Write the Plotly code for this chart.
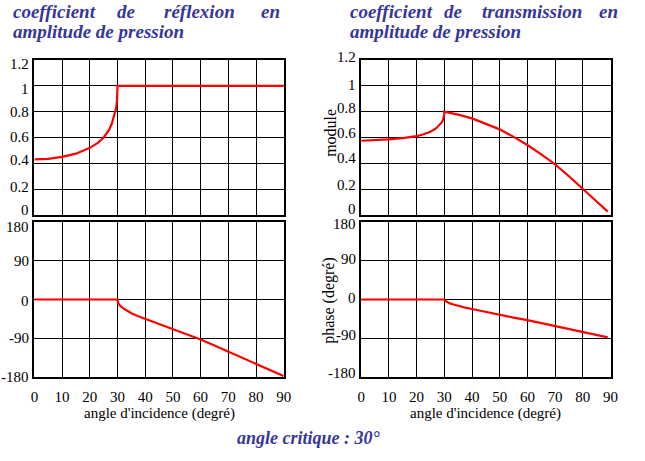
import plotly.graph_objects as go

# ---------------- data ----------------
refl_mod_angle = [0, 5, 10, 15, 20, 23, 25, 27, 28, 29, 29.5, 29.8, 29.95, 30, 40, 50, 60, 70, 80, 90]
refl_mod_value = [0.43, 0.435, 0.45, 0.475, 0.52, 0.56, 0.60, 0.66, 0.71, 0.78, 0.83, 0.88, 0.93, 1.0, 1.0, 1.0, 1.0, 1.0, 1.0, 1.0]

refl_phase_angle = [0, 10, 20, 30, 30.2, 31, 32, 33.5, 35, 37.5, 40, 45, 50, 55, 60, 65, 70, 75, 80, 85, 89, 90]
refl_phase_value = [0, 0, 0, 0, -8, -15, -20, -27, -32, -39, -45, -57, -68, -80, -93, -107, -121, -135, -149, -163, -174, -178]

trans_mod_angle = [0, 5, 10, 15, 20, 22.5, 25, 27, 28, 29, 29.5, 29.8, 29.95, 30, 35, 40, 45, 50, 55, 60, 65, 70, 75, 80, 85, 89]
trans_mod_value = [0.575, 0.578, 0.585, 0.595, 0.61, 0.625, 0.645, 0.67, 0.69, 0.715, 0.735, 0.755, 0.775, 0.80, 0.777, 0.748, 0.708, 0.663, 0.605, 0.542, 0.47, 0.392, 0.30, 0.199, 0.105, 0.026]

trans_phase_angle = [0, 10, 20, 30, 30.3, 31, 32, 33, 35, 37.5, 40, 45, 50, 55, 60, 65, 70, 75, 80, 85, 89]
trans_phase_value = [0, 0, 0, 0, -3, -6, -9, -11, -15, -19, -22, -29, -35, -42, -48, -55, -61, -68, -75, -82, -88]

x_ticks = [0, 10, 20, 30, 40, 50, 60, 70, 80, 90]
mod_ticks = [0, 0.2, 0.4, 0.6, 0.8, 1.0, 1.2]
mod_tick_text = ["0", "0.2", "0.4", "0.6", "0.8", "1", "1.2"]
phase_ticks = [-180, -90, 0, 90, 180]
phase_tick_text = ["-180", "-90", "0", "90", "180"]

W, H = 645, 461
SERIF = "Liberation Serif"
BLUE = "#36369a"
RED = "#ff0000"

fig = go.Figure()

def px(x):
    return x / W

def py(y):
    return 1 - y / H

# tick-label vertical nudges (pixels, + = up), as seen in the reference
left_mod_shift = [5, 2, 3, 1, 0, -3, -4]
left_phase_shift = [0, 0, -1, 0, -5]
right_mod_shift = [6, 4, 5, 5, 4, 1, 3]
right_phase_shift = [4, 3, 2, 2, -2]

panels = [
    ("x", "y", (31, 285), (60, 215), refl_mod_angle, refl_mod_value, mod_ticks, mod_tick_text, [0, 1.2], False, 28, left_mod_shift),
    ("x2", "y2", (31, 285), (222, 377), refl_phase_angle, refl_phase_value, phase_ticks, phase_tick_text, [-180, 180], True, 28, left_phase_shift),
    ("x3", "y3", (364, 618), (60, 215), trans_mod_angle, trans_mod_value, mod_ticks, mod_tick_text, [0, 1.2], False, 361, right_mod_shift),
    ("x4", "y4", (364, 618), (222, 377), trans_phase_angle, trans_phase_value, phase_ticks, phase_tick_text, [-180, 180], True, 361, right_phase_shift),
]

ann = []

for (xa, ya, xd, yd, xs, ys, yt, ytt, yr, showx, lab_x, shifts) in panels:
    fig.add_trace(go.Scatter(x=xs, y=ys, mode="lines", xaxis=xa, yaxis=ya,
                             line=dict(color=RED, width=2.2),
                             showlegend=False, hoverinfo="skip"))
    xkey = "xaxis" if xa == "x" else "xaxis" + xa[1:]
    ykey = "yaxis" if ya == "y" else "yaxis" + ya[1:]
    fig.update_layout(**{
        xkey: dict(domain=[px(xd[0]), px(xd[1])], anchor=ya, range=[0, 90],
                   tickvals=x_ticks, showticklabels=showx,
                   ticks="outside", ticklen=5, tickcolor="rgba(0,0,0,0)",
                   showgrid=True, gridcolor="black", gridwidth=1,
                   showline=True, linecolor="black", linewidth=2, mirror=True,
                   zeroline=False, fixedrange=True,
                   tickfont=dict(family=SERIF, size=15, color="black")),
        ykey: dict(domain=[py(yd[1]), py(yd[0])], anchor=xa, range=yr,
                   tickvals=yt, showticklabels=False, ticks="",
                   showgrid=True, gridcolor="black", gridwidth=1,
                   showline=True, linecolor="black", linewidth=2, mirror=True,
                   zeroline=False, fixedrange=True),
    })
    for v, t, s in zip(yt, ytt, shifts):
        ann.append(dict(text=t, x=px(lab_x), y=v, xref="paper", yref=ya,
                        xanchor="right", yanchor="middle", yshift=s, showarrow=False,
                        font=dict(family=SERIF, size=15, color="black")))

def word(text, x0, y, size=19):
    ann.append(dict(text=text, x=px(x0), y=py(y), xref="paper", yref="paper",
                    xanchor="left", yanchor="middle", showarrow=False,
                    font=dict(family=SERIF, size=size, color=BLUE)))

def b(t):
    return "<b><i>" + t + "</i></b>"

# left title (justified)
word(b("coefficient"), 7, 11)
word(b("de"), 113, 11)
word(b("réflexion"), 161, 11)
word(b("en"), 260, 11)
word(b("amplitude de pression"), 7, 32)
# right title (justified)
word(b("coefficient"), 351, 11)
word(b("de"), 446, 11)
word(b("transmission"), 485, 11)
word(b("en"), 604, 11)
word(b("amplitude de pression"), 351, 32)

ann.append(dict(text=b("angle critique : 30°"), x=px(310), y=py(438), xref="paper", yref="paper",
                xanchor="center", yanchor="middle", showarrow=False,
                font=dict(family=SERIF, size=18, color=BLUE)))

for cx in (158, 491):
    ann.append(dict(text="angle d'incidence (degré)", x=px(cx), y=py(413), xref="paper", yref="paper",
                    xanchor="center", yanchor="middle", showarrow=False,
                    font=dict(family=SERIF, size=15, color="black")))

ann.append(dict(text="module", x=px(332), y=py(133), xref="paper", yref="paper",
                xanchor="center", yanchor="middle", showarrow=False, textangle=-90,
                font=dict(family=SERIF, size=16, color="black")))
ann.append(dict(text="phase (degré)", x=px(331), y=py(300), xref="paper", yref="paper",
                xanchor="center", yanchor="middle", showarrow=False, textangle=-90,
                font=dict(family=SERIF, size=16, color="black")))

fig.update_layout(width=W, height=H, margin=dict(l=0, r=0, t=0, b=0),
                  paper_bgcolor="white", plot_bgcolor="white",
                  annotations=ann, showlegend=False)

fig.write_html("out.html", config={"displayModeBar": False})
